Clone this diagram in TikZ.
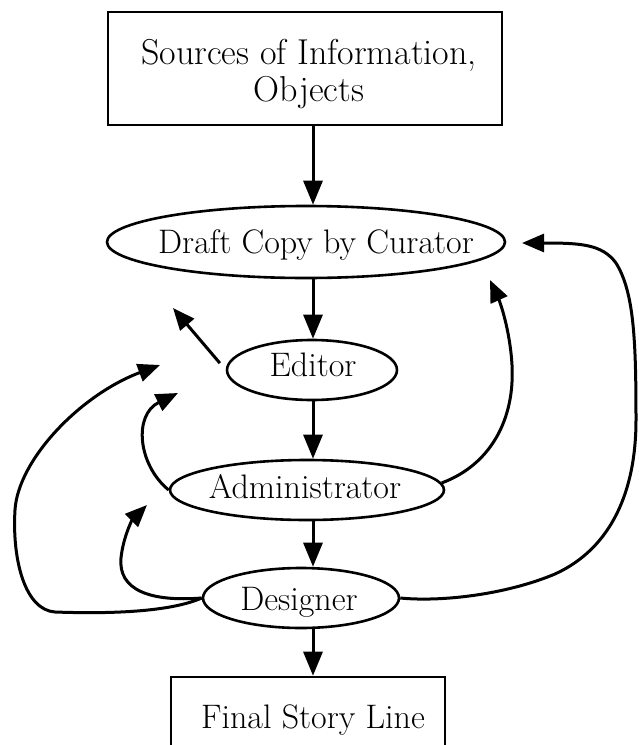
\documentclass[tikz,border=0pt]{standalone}
\usetikzlibrary{shapes.geometric,arrows.meta}
\begin{document}
\begin{tikzpicture}[x=1pt,y=-1pt,
  line width=3pt,
  txt/.style={font=\fontsize{34}{37}\selectfont, inner sep=0pt, anchor=base},
  ell/.style={draw, ellipse, inner sep=0pt, line width=2.6pt},
  boxn/.style={draw, rectangle, inner sep=0pt, line width=2.6pt},
  arr/.style={-{Triangle[length=24pt,width=19pt]}},
  carr/.style={-{Triangle[length=22pt,width=18pt]}}]
\clip (0,0) rectangle (638,745);
% nodes
\node[boxn, minimum width=394pt, minimum height=113pt] (src) at (305,68.5) {};
\node[txt, anchor=center, align=center, font=\fontsize{36}{37}\selectfont] (srct) at (309,74) {Sources of Information,\\Objects};
\node[ell, minimum width=398pt, minimum height=72pt] (draft) at (306,242) {};
\node[txt] (draftt) at (316,253) {Draft Copy by Curator};
\node[ell, minimum width=170pt, minimum height=60pt] (edi) at (312,370) {};
\node[txt] (edit) at (313,376) {Editor};
\node[ell, minimum width=274pt, minimum height=60pt] (adm) at (307,490) {};
\node[txt] (admt) at (305,498) {Administrator};
\node[ell, minimum width=196pt, minimum height=60pt] (des) at (301,598) {};
\node[txt] (dest) at (299,610) {Designer};
\node[boxn, minimum width=274pt, minimum height=100pt] (fin) at (308,727) {};
\node[txt] (fint) at (313,728) {Final Story Line};
% main flow
\coordinate (ax) at (313,0);
\draw[arr] (src.south -| ax) -- (draft.north -| ax);
\draw[arr] (draft.south -| ax) -- (edi.north -| ax);
\draw[arr] (edi.south -| ax) -- (adm.north -| ax);
\draw[arr] (adm.south -| ax) -- (des.north -| ax);
\draw[arr] (des.south -| ax) -- (fin.north -| ax);
% feedback arrows
\coordinate (t1) at (173,308);
\coordinate (t2) at (160,365);
\coordinate (t3) at (147,505);
\coordinate (t4) at (178,393);
\coordinate (t5) at (490,280);
\coordinate (t6) at (522,243);
\draw[carr, shorten <=9pt] (edi.west) -- (t1);
\draw[carr] (des.west) .. controls (170,612) and (110,614) .. (55,612)
  .. controls (25,610) and (12,560) .. (15,510)
  .. controls (18,460) and (80,395) .. (t2);
\draw[carr] (des.west) .. controls (150,602) and (118,590) .. (121,558)
  .. controls (123,538) and (132,520) .. (t3);
\draw[carr] (adm.west) .. controls (138,465) and (133,415) .. (t4);
\draw[carr] (adm.3) .. controls (490,465) and (515,420) .. (512,365)
  .. controls (510,330) and (500,302) .. (t5);
\draw[carr] (des.east) .. controls (440,602) and (505,595) .. (555,574)
  .. controls (612,548) and (636,490) .. (636,420)
  .. controls (636,340) and (634,292) .. (616,263)
  .. controls (602,244) and (580,243) .. (t6);
\end{tikzpicture}
\end{document}
